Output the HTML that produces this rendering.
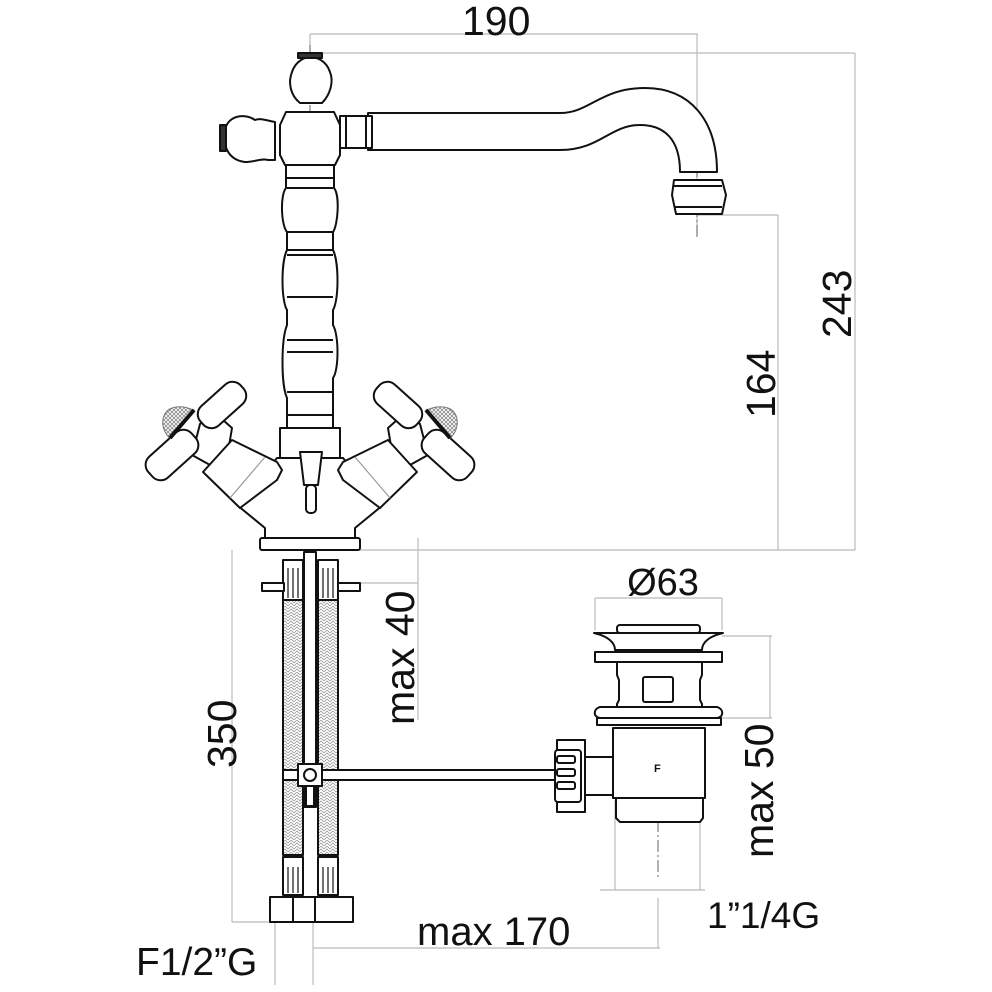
<!DOCTYPE html>
<html><head><style>html,body{margin:0;padding:0;background:#fff}svg{display:block}text{font-family:"Liberation Sans",sans-serif;fill:#111}</style></head>
<body>
<svg width="992" height="992" viewBox="0 0 992 992" xmlns="http://www.w3.org/2000/svg">
<defs>
<pattern id="hb" width="6" height="6" patternUnits="userSpaceOnUse"><path d="M0 3 L3 0 L6 3 M0 6 L3 3 L6 6" stroke="#999" stroke-width="0.8" fill="none"/></pattern>
<pattern id="mesh" width="4" height="4" patternUnits="userSpaceOnUse"><path d="M0 0 L4 4 M4 0 L0 4" stroke="#888" stroke-width="0.8"/></pattern>
</defs>
<g stroke="#bbb" stroke-width="1.2" fill="none">
<line x1="310" y1="34" x2="698" y2="34"/><line x1="310" y1="34" x2="310" y2="60"/><line x1="697" y1="34" x2="697" y2="235"/>
<line x1="310" y1="53" x2="855" y2="53"/><line x1="855" y1="53" x2="855" y2="550"/>
<line x1="697" y1="215" x2="778" y2="215"/><line x1="778" y1="215" x2="778" y2="550"/>
<line x1="260" y1="550" x2="855" y2="550"/>
<line x1="232" y1="550" x2="232" y2="922"/><line x1="232" y1="922" x2="290" y2="922"/>
<line x1="418" y1="538" x2="418" y2="720"/><line x1="345" y1="583" x2="418" y2="583"/>
<line x1="595" y1="598" x2="722" y2="598"/><line x1="595" y1="598" x2="595" y2="630"/><line x1="722" y1="598" x2="722" y2="630"/>
<line x1="722" y1="636" x2="772" y2="636"/><line x1="722" y1="718" x2="772" y2="718"/><line x1="770" y1="636" x2="770" y2="718"/>
<line x1="615" y1="800" x2="615" y2="890"/><line x1="700" y1="800" x2="700" y2="890"/><line x1="600" y1="890" x2="705" y2="890"/>
<line x1="313" y1="922" x2="313" y2="985"/><line x1="275" y1="922" x2="275" y2="985"/>
<line x1="313" y1="948" x2="660" y2="948"/><line x1="658" y1="898" x2="658" y2="948"/>
</g>
<g stroke="#666" stroke-width="1" stroke-dasharray="12,3,2,3">
<line x1="310" y1="45" x2="310" y2="165"/><line x1="697" y1="145" x2="697" y2="238"/><line x1="658" y1="760" x2="658" y2="880"/>
</g>
<text x="462" y="35" font-size="41">190</text>
<text x="663" y="595" font-size="38" text-anchor="middle">Ø63</text>
<text x="417" y="945" font-size="40">max 170</text>
<text x="136" y="975" font-size="39">F1/2”G</text>
<text x="707" y="928" font-size="37">1”1/4G</text>
<text font-size="41" transform="translate(851,338) rotate(-90)">243</text>
<text font-size="41" transform="translate(775,418) rotate(-90)">164</text>
<text font-size="41" transform="translate(236,768) rotate(-90)">350</text>
<text font-size="41" transform="translate(414,725) rotate(-90)">max 40</text>
<text font-size="41" transform="translate(773,858) rotate(-90)">max 50</text>
<g stroke="#111" stroke-width="2" fill="#fff" stroke-linejoin="round">
<path d="M368 113 L560 113 C590 113 600 88 645 88 C690 88 717 120 717 172 L680 172 C680 140 665 125 640 125 C610 125 600 150 560 150 L368 150 Z"/>
<path d="M674 180 L722 180 L726 195 L722 214 L676 214 L672 195 Z"/>
<line x1="674" y1="186" x2="722" y2="186"/><line x1="674" y1="207" x2="722" y2="207"/>
<rect x="340" y="116" width="32" height="32"/><line x1="346" y1="116" x2="346" y2="148"/><line x1="366" y1="116" x2="366" y2="148"/>
<path d="M300 103 C290 95 288 82 292 72 C296 60 306 57 310 57 C316 57 326 60 330 72 C334 82 330 95 322 103 Z"/>
<rect x="298" y="53" width="24" height="5" fill="#333"/>
<path d="M275 122 C265 120 260 118 255 120 C245 113 228 115 225 130 C222 145 228 160 245 162 C255 162 262 158 268 160 L275 160 Z"/>
<rect x="220" y="125" width="6" height="26" fill="#333"/>
<path d="M286 112 L334 112 L340 125 L340 155 L335 165 L285 165 L280 155 L280 125 Z"/>
<path d="M286 165 L334 165 L334 188 C340 195 338 225 333 232 L333 250 C339 262 339 300 333 310 L333 325 C339 335 339 370 333 378 L333 398 L333 428 L287 428 L287 398 C281 385 281 340 287 325 L287 310 C281 300 281 262 287 250 L287 232 C281 225 280 195 286 188 Z"/>
<g fill="none"><line x1="287" y1="178" x2="333" y2="178"/><line x1="287" y1="188" x2="333" y2="188"/><line x1="287" y1="232" x2="333" y2="232"/><line x1="287" y1="250" x2="333" y2="250"/><line x1="287" y1="255" x2="333" y2="255"/><line x1="287" y1="297" x2="333" y2="297"/><line x1="287" y1="340" x2="333" y2="340"/><line x1="287" y1="352" x2="333" y2="352"/><line x1="287" y1="392" x2="333" y2="392"/><line x1="287" y1="415" x2="333" y2="415"/></g>
<!-- lower body -->
<path d="M237 505 L265 528 L265 540 L355 540 L355 528 L383 505 L343 458 L277 458 Z"/>
<rect x="280" y="428" width="60" height="30"/>
<path d="M300 452 L322 452 L318 485 L304 485 Z"/><rect x="306" y="485" width="10" height="28" rx="4"/>
<!-- handles -->
<g id="hl">
<path d="M200 424 L214 412 L232 428 L228 452 L210 465 L192 455 Z"/>
<path d="M203 472 L232 440 L277 462 L282 470 L277 480 L240 508 Z"/>
<line x1="230" y1="498" x2="265" y2="457" stroke="#999" stroke-width="1.2"/>
<rect x="-27" y="-13" width="54" height="26" rx="11" transform="translate(222,405) rotate(-42)"/>
<rect x="-29" y="-14" width="58" height="28" rx="11" transform="translate(172,455) rotate(-42)"/>
<path d="M170 438 C160 430 160 412 172 408 C180 405 188 408 194 410 Z" fill="url(#mesh)" stroke="#777" stroke-width="1"/>
<path d="M170 438 L194 410" stroke="#111" stroke-width="4"/>
</g>
<use href="#hl" transform="translate(620,0) scale(-1,1)"/>
<rect x="260" y="538" width="100" height="12" rx="2"/>
<rect x="283" y="600" width="20" height="255" fill="url(#hb)"/>
<rect x="318" y="600" width="20" height="255" fill="url(#hb)"/>
<rect x="304" y="552" width="12" height="255" fill="#fff"/>
<rect x="283" y="560" width="20" height="40"/><rect x="318" y="560" width="20" height="40"/>
<rect x="262" y="583" width="22" height="8"/><rect x="338" y="583" width="22" height="8"/>
<rect x="283" y="857" width="20" height="38"/><rect x="318" y="857" width="20" height="38"/>
<g fill="none" stroke-width="1.2"><line x1="288" y1="568" x2="288" y2="598"/><line x1="293" y1="568" x2="293" y2="598"/><line x1="298" y1="568" x2="298" y2="598"/><line x1="323" y1="568" x2="323" y2="598"/><line x1="328" y1="568" x2="328" y2="598"/><line x1="333" y1="568" x2="333" y2="598"/>
<line x1="288" y1="867" x2="288" y2="893"/><line x1="293" y1="867" x2="293" y2="893"/><line x1="298" y1="867" x2="298" y2="893"/><line x1="323" y1="867" x2="323" y2="893"/><line x1="328" y1="867" x2="328" y2="893"/><line x1="333" y1="867" x2="333" y2="893"/></g>
<rect x="270" y="897" width="38" height="25"/><rect x="293" y="897" width="30" height="25"/><rect x="315" y="897" width="38" height="25"/>
<rect x="283" y="770" width="272" height="10"/>
<rect x="298" y="764" width="24" height="22"/><circle cx="310" cy="775" r="6"/><rect x="306" y="786" width="8" height="20"/>
<!-- drain -->
<rect x="557" y="740" width="28" height="72"/><rect x="585" y="757" width="30" height="38"/>
<rect x="555" y="750" width="26" height="52" rx="3"/>
<g fill="none"><rect x="557" y="756" width="18" height="7" rx="2"/><rect x="557" y="769" width="18" height="7" rx="2"/><rect x="557" y="782" width="18" height="7" rx="2"/></g>
<path d="M616 798 L703 798 L703 818 L700 822 L620 822 L616 818 Z"/>
<rect x="613" y="728" width="92" height="70"/>
<rect x="597" y="718" width="124" height="7"/>
<path d="M600 707 L717 707 C724 709 724 717 717 718 L600 718 C593 717 593 709 600 707 Z"/>
<path d="M617 662 L702 662 L702 675 L700 680 L700 700 L702 704 L702 707 L617 707 L617 704 L619 700 L619 680 L617 675 Z"/>
<rect x="643" y="677" width="30" height="25" rx="2"/>
<rect x="595" y="652" width="127" height="10"/>
<path d="M594 633 L723 633 C710 636 702 642 702 650 L615 650 C615 642 607 636 594 633 Z"/>
<rect x="617" y="625" width="83" height="8" rx="3"/>
</g>
<text x="654" y="772" font-size="11" font-weight="bold">F</text>
</svg>
</body></html>
